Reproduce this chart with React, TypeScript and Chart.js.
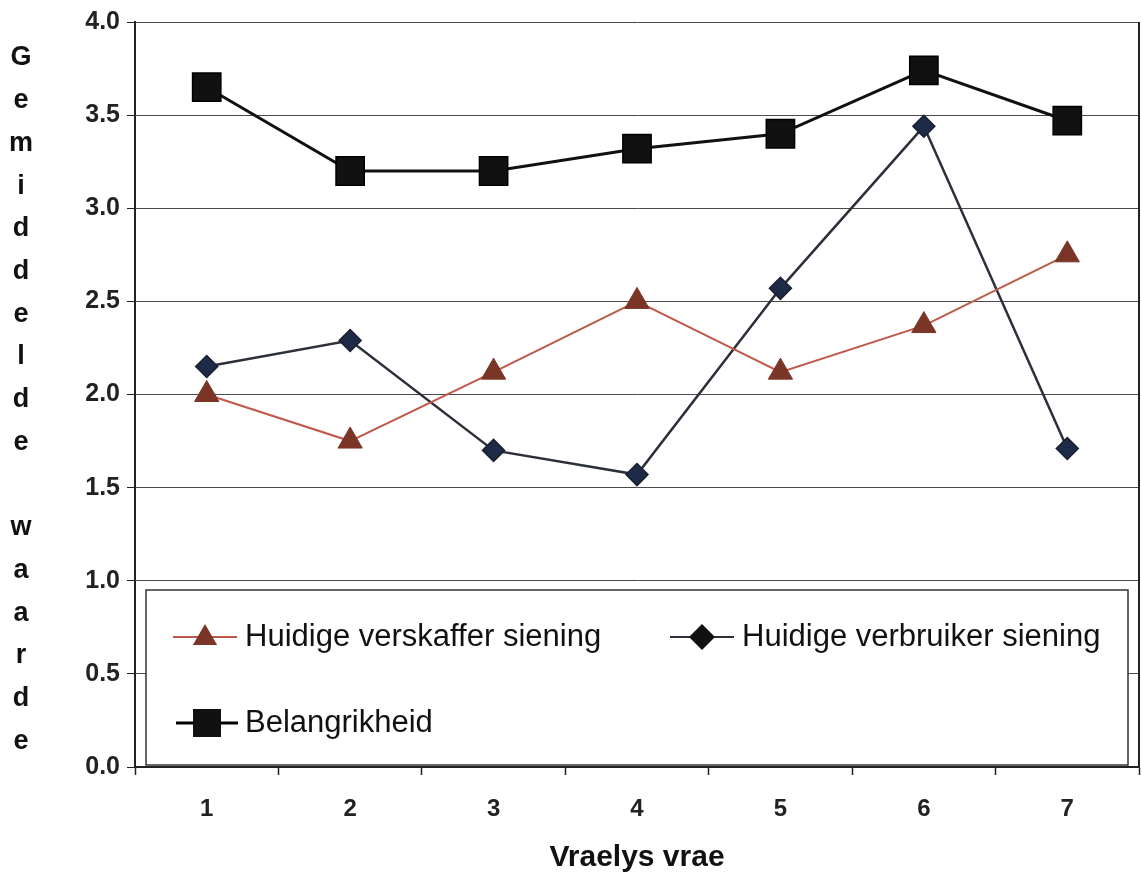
import { useEffect, useRef } from 'react';
import { Chart, registerables } from 'chart.js';

Chart.register(...registerables);

const questions = ['1', '2', '3', '4', '5', '6', '7'];
const verskafferValues = [2.0, 1.75, 2.12, 2.5, 2.12, 2.37, 2.75];
const verbruikerValues = [2.15, 2.29, 1.7, 1.57, 2.57, 3.44, 1.71];
const belangrikheidValues = [3.65, 3.2, 3.2, 3.32, 3.4, 3.74, 3.47];
const seriesLabels = ['Huidige verskaffer siening', 'Huidige verbruiker siening', 'Belangrikheid'];
const yTitle = 'Gemiddelde waarde';
const xTitle = 'Vraelys vrae';

const FONT = '"Liberation Sans", Arial, sans-serif';

const triangleFill = '#7a3526';
const triangleLine = '#c0584a';
const diamondFill = '#1d2a48';
const diamondLine = '#2b303a';
const squareFill = '#111111';

function drawTriangle(ctx: CanvasRenderingContext2D, x: number, y: number, r: number) {
  ctx.beginPath();
  ctx.moveTo(x, y - r);
  ctx.lineTo(x + r * Math.sin((2 * Math.PI) / 3), y - r * Math.cos((2 * Math.PI) / 3));
  ctx.lineTo(x + r * Math.sin((4 * Math.PI) / 3), y - r * Math.cos((4 * Math.PI) / 3));
  ctx.closePath();
  ctx.fill();
}

const decorations = {
  id: 'decorations',
  afterDraw(chart: any) {
    const { ctx, chartArea } = chart;
    ctx.save();

    // right frame of the plot area
    ctx.strokeStyle = '#222';
    ctx.lineWidth = 2;
    ctx.beginPath();
    ctx.moveTo(chartArea.right, chartArea.top);
    ctx.lineTo(chartArea.right, chartArea.bottom);
    ctx.stroke();

    // vertical y-axis title, one letter per line
    ctx.fillStyle = '#111';
    ctx.font = `bold 27px ${FONT}`;
    ctx.textAlign = 'center';
    ctx.textBaseline = 'middle';
    const letters = yTitle.split('');
    letters.forEach((ch, i) => {
      if (ch !== ' ') ctx.fillText(ch, 21, 58 + i * 42.7);
    });

    // x-axis title
    ctx.font = `bold 30px ${FONT}`;
    ctx.fillText(xTitle, (chartArea.left + chartArea.right) / 2, 858);

    // legend box inside the plot
    const bx = 146, by = 590, bw = 982, bh = 175;
    ctx.fillStyle = '#fff';
    ctx.fillRect(bx, by, bw, bh);
    ctx.strokeStyle = '#333';
    ctx.lineWidth = 1.5;
    ctx.strokeRect(bx, by, bw, bh);

    ctx.textAlign = 'left';
    ctx.font = `31px ${FONT}`;

    // item 1: triangle
    let y = 637;
    ctx.strokeStyle = triangleLine;
    ctx.lineWidth = 2;
    ctx.beginPath();
    ctx.moveTo(173, y);
    ctx.lineTo(237, y);
    ctx.stroke();
    ctx.fillStyle = triangleFill;
    drawTriangle(ctx, 205, y + 1, 14);
    ctx.fillStyle = '#111';
    ctx.fillText(seriesLabels[0], 245, y);

    // item 2: diamond
    ctx.strokeStyle = diamondLine;
    ctx.lineWidth = 2;
    ctx.beginPath();
    ctx.moveTo(670, y);
    ctx.lineTo(734, y);
    ctx.stroke();
    ctx.fillStyle = '#111';
    ctx.beginPath();
    ctx.moveTo(702, y - 13);
    ctx.lineTo(715, y);
    ctx.lineTo(702, y + 13);
    ctx.lineTo(689, y);
    ctx.closePath();
    ctx.fill();
    ctx.fillText(seriesLabels[1], 742, y);

    // item 3: square
    y = 723;
    ctx.strokeStyle = '#000';
    ctx.lineWidth = 3;
    ctx.beginPath();
    ctx.moveTo(176, y);
    ctx.lineTo(238, y);
    ctx.stroke();
    ctx.fillStyle = squareFill;
    ctx.fillRect(193, y - 14, 28, 28);
    ctx.fillStyle = '#111';
    ctx.fillText(seriesLabels[2], 245, y);

    ctx.restore();
  },
};

export default function App() {
  const canvasRef = useRef<HTMLCanvasElement | null>(null);

  useEffect(() => {
    document.body.style.margin = '0';
    const canvas = canvasRef.current;
    if (!canvas) return;

    const chart = new Chart(canvas, {
      type: 'line',
      data: {
        labels: questions,
        datasets: [
          {
            label: seriesLabels[0],
            data: verskafferValues,
            borderColor: triangleLine,
            borderWidth: 2,
            pointStyle: 'triangle',
            pointRadius: 14,
            pointBackgroundColor: triangleFill,
            pointBorderColor: triangleFill,
            pointBorderWidth: 1,
            tension: 0,
          },
          {
            label: seriesLabels[1],
            data: verbruikerValues,
            borderColor: diamondLine,
            borderWidth: 2.5,
            pointStyle: 'rectRot',
            pointRadius: 11,
            pointBackgroundColor: diamondFill,
            pointBorderColor: '#1a1f2c',
            pointBorderWidth: 1.5,
            tension: 0,
          },
          {
            label: seriesLabels[2],
            data: belangrikheidValues,
            borderColor: '#111',
            borderWidth: 3,
            pointStyle: 'rect',
            pointRadius: 20,
            pointBackgroundColor: squareFill,
            pointBorderColor: '#000',
            pointBorderWidth: 1.5,
            tension: 0,
          },
        ],
      },
      options: {
        responsive: false,
        animation: false,
        layout: { autoPadding: false, padding: { top: 22, right: 3, left: 0, bottom: 0 } },
        plugins: {
          legend: { display: false },
          tooltip: { enabled: false },
        },
        scales: {
          x: {
            type: 'category',
            offset: true,
            afterFit: (scale: any) => {
              scale.height = 109;
            },
            grid: {
              offset: true,
              drawOnChartArea: false,
              color: '#222',
              tickLength: 8,
              tickWidth: 1.5,
            },
            border: { color: '#222', width: 2 },
            ticks: {
              color: '#222',
              font: { family: FONT, size: 24, weight: 'bold' },
              padding: 20,
              maxRotation: 0,
            },
          },
          y: {
            min: 0,
            max: 4,
            afterFit: (scale: any) => {
              scale.width = 135;
            },
            grid: {
              color: '#4a4a4a',
              lineWidth: 1,
              tickLength: 8,
              tickColor: '#222',
            },
            border: { color: '#222', width: 2 },
            ticks: {
              stepSize: 0.5,
              color: '#222',
              padding: 7,
              font: { family: FONT, size: 25, weight: 'bold' },
              callback: (v: any) => Number(v).toFixed(1),
            },
          },
        },
      },
      plugins: [decorations],
    });

    return () => chart.destroy();
  }, []);

  return (
    <div style={{ width: 1142, height: 876, background: '#fff' }}>
      <canvas ref={canvasRef} width={1142} height={876} style={{ display: 'block' }} />
    </div>
  );
}
